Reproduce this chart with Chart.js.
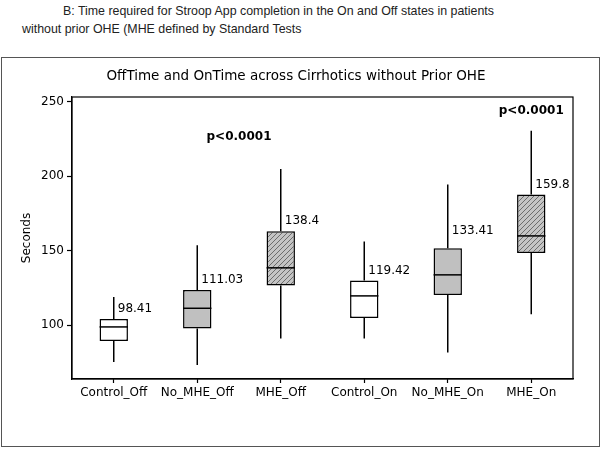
<!DOCTYPE html>
<html>
<head>
<meta charset="utf-8">
<script src="https://cdn.jsdelivr.net/npm/chart.js@4.4.0/dist/chart.umd.min.js"></script>
<style>
    body { margin: 0; background: #fff; }
    #wrap { position: relative; width: 602px; height: 449px; overflow: hidden; }
    #caption {
        position: absolute; left: 0; top: 2px; width: 602px;
        font-family: "Liberation Sans", Arial, sans-serif; font-size: 12.4px;
        line-height: 18px; color: #222; white-space: nowrap;
    }
    #caption .l1 { padding-left: 63px; }
    #caption .l2 { padding-left: 22px; }
    #frame {
        position: absolute; left: 1px; top: 57px; width: 597px; height: 388px;
        border: 1.5px solid #555;
    }
    #chart { position: absolute; left: 0; top: 0; }
</style>
</head>
<body>
<div id="wrap">
    <div id="caption">
        <div class="l1">B: Time required for Stroop App completion in the On and Off states in patients</div>
        <div class="l2">without prior OHE (MHE defined by Standard Tests</div>
    </div>
    <div id="frame"></div>
    <canvas id="chart" width="602" height="449"></canvas>
</div>
<script>
// データ (秒)
const categories = ['Control_Off', 'No_MHE_Off', 'MHE_Off', 'Control_On', 'No_MHE_On', 'MHE_On'];
const whiskerLow  = [75.4, 73.4, 91.1, 91.1, 81.7, 107.4];
const q1Values    = [89.5, 97.8, 126.6, 104.9, 120.3, 148.5];
const medianValues = [98.9, 111.4, 138.5, 119.7, 133.8, 159.9];
const q3Values    = [104.2, 123.7, 163.1, 130.0, 151.7, 187.7];
const whiskerHigh = [119.0, 153.7, 204.7, 156.2, 194.4, 230.4];
const meanLabels  = ['98.41', '111.03', '138.4', '119.42', '133.41', '159.8'];
const yTicks      = [100, 150, 200, 250];
const chartTitle  = 'OffTime and OnTime across Cirrhotics without Prior OHE';
const pLabel      = 'p<0.0001';

// 斜線パターン
function makeHatch() {
    const c = document.createElement('canvas');
    c.width = 5; c.height = 5;
    const g = c.getContext('2d');
    g.fillStyle = '#c4c4c4';
    g.fillRect(0, 0, 5, 5);
    g.strokeStyle = '#555';
    g.lineWidth = 0.8;
    g.beginPath();
    g.moveTo(0, 5); g.lineTo(5, 0);
    g.moveTo(-1, 1); g.lineTo(1, -1);
    g.moveTo(4, 6); g.lineTo(6, 4);
    g.stroke();
    return g.createPattern(c, 'repeat');
}
const hatch = makeHatch();
const boxFills = ['#ffffff', '#c0c0c0', hatch, '#ffffff', '#c0c0c0', hatch];

// ひげ・中央値・注記を描くプラグイン
const boxPlotPlugin = {
    id: 'boxPlot',
    beforeDatasetsDraw(chart) {
        const ctx = chart.ctx;
        const x = chart.scales.x, y = chart.scales.y;
        ctx.save();
        ctx.strokeStyle = '#000';
        ctx.lineWidth = 1.5;
        categories.forEach((c, i) => {
            const px = x.getPixelForValue(i);
            ctx.beginPath();
            ctx.moveTo(px, y.getPixelForValue(whiskerHigh[i]));
            ctx.lineTo(px, y.getPixelForValue(q3Values[i]));
            ctx.moveTo(px, y.getPixelForValue(q1Values[i]));
            ctx.lineTo(px, y.getPixelForValue(whiskerLow[i]));
            ctx.stroke();
        });
        ctx.restore();
    },
    afterDatasetsDraw(chart) {
        const ctx = chart.ctx;
        const x = chart.scales.x, y = chart.scales.y;
        const meta = chart.getDatasetMeta(0);
        const area = chart.chartArea;
        ctx.save();
        ctx.strokeStyle = '#000';
        ctx.lineWidth = 1.5;
        categories.forEach((c, i) => {
            const bar = meta.data[i];
            const py = y.getPixelForValue(medianValues[i]);
            ctx.beginPath();
            ctx.moveTo(bar.x - bar.width / 2, py);
            ctx.lineTo(bar.x + bar.width / 2, py);
            ctx.stroke();
        });

        // 平均値ラベル
        ctx.fillStyle = '#000';
        ctx.font = '12px "DejaVu Sans", Verdana, sans-serif';
        ctx.textAlign = 'left';
        ctx.textBaseline = 'middle';
        categories.forEach((c, i) => {
            const px = x.getPixelForValue(i);
            const extra = i === 4 ? 7 : 0;
            ctx.fillText(meanLabels[i], px + 4, y.getPixelForValue(q3Values[i]) - 10 - extra);
        });

        // p値
        ctx.font = 'bold 12px "DejaVu Sans", Verdana, sans-serif';
        ctx.textAlign = 'center';
        ctx.fillText(pLabel, x.getPixelForValue(1.5), y.getPixelForValue(226));
        ctx.fillText(pLabel, x.getPixelForValue(5), y.getPixelForValue(244));

        // タイトル
        ctx.font = '13.5px "DejaVu Sans", Verdana, sans-serif';
        ctx.fillText(chartTitle, 296, 76);

        // プロット枠
        ctx.strokeStyle = '#000';
        ctx.lineWidth = 1.2;
        ctx.strokeRect(area.left, area.top, area.right - area.left, area.bottom - area.top);
        ctx.restore();
    }
};

const ctx = document.getElementById('chart').getContext('2d');
new Chart(ctx, {
    type: 'bar',
    data: {
        labels: categories,
        datasets: [{
            data: categories.map((c, i) => [q1Values[i], q3Values[i]]),
            backgroundColor: boxFills,
            borderColor: '#000',
            borderWidth: 1.5,
            borderSkipped: false,
            categoryPercentage: 1,
            barPercentage: 0.34
        }]
    },
    options: {
        responsive: false,
        animation: false,
        layout: { padding: { left: 0, top: 97, right: 29, bottom: 0 } },
        plugins: {
            legend: { display: false },
            tooltip: { enabled: false }
        },
        scales: {
            x: {
                offset: true,
                afterFit(scale) { scale.height = 70; },
                grid: { display: true, offset: false, drawOnChartArea: false, tickLength: 4, color: '#000', tickWidth: 1.2 },
                border: { display: true, color: '#000', width: 1.2 },
                ticks: {
                    color: '#000',
                    padding: 3,
                    font: { family: '"DejaVu Sans", Verdana, sans-serif', size: 12 },
                    maxRotation: 0,
                    autoSkip: false
                }
            },
            y: {
                min: 64,
                max: 253,
                afterFit(scale) { scale.width = 72; },
                afterBuildTicks(scale) { scale.ticks = yTicks.map(v => ({ value: v })); },
                grid: { display: true, drawOnChartArea: false, tickLength: 5, color: '#000', tickWidth: 1.2 },
                border: { display: true, color: '#000', width: 1.2 },
                ticks: {
                    color: '#000',
                    padding: 3,
                    font: { family: '"DejaVu Sans", Verdana, sans-serif', size: 12 }
                },
                title: {
                    display: true,
                    text: 'Seconds',
                    color: '#000',
                    padding: { top: 20, bottom: 0 },
                    font: { family: '"DejaVu Sans", Verdana, sans-serif', size: 12 }
                }
            }
        }
    },
    plugins: [boxPlotPlugin]
});
</script>
</body>
</html>
